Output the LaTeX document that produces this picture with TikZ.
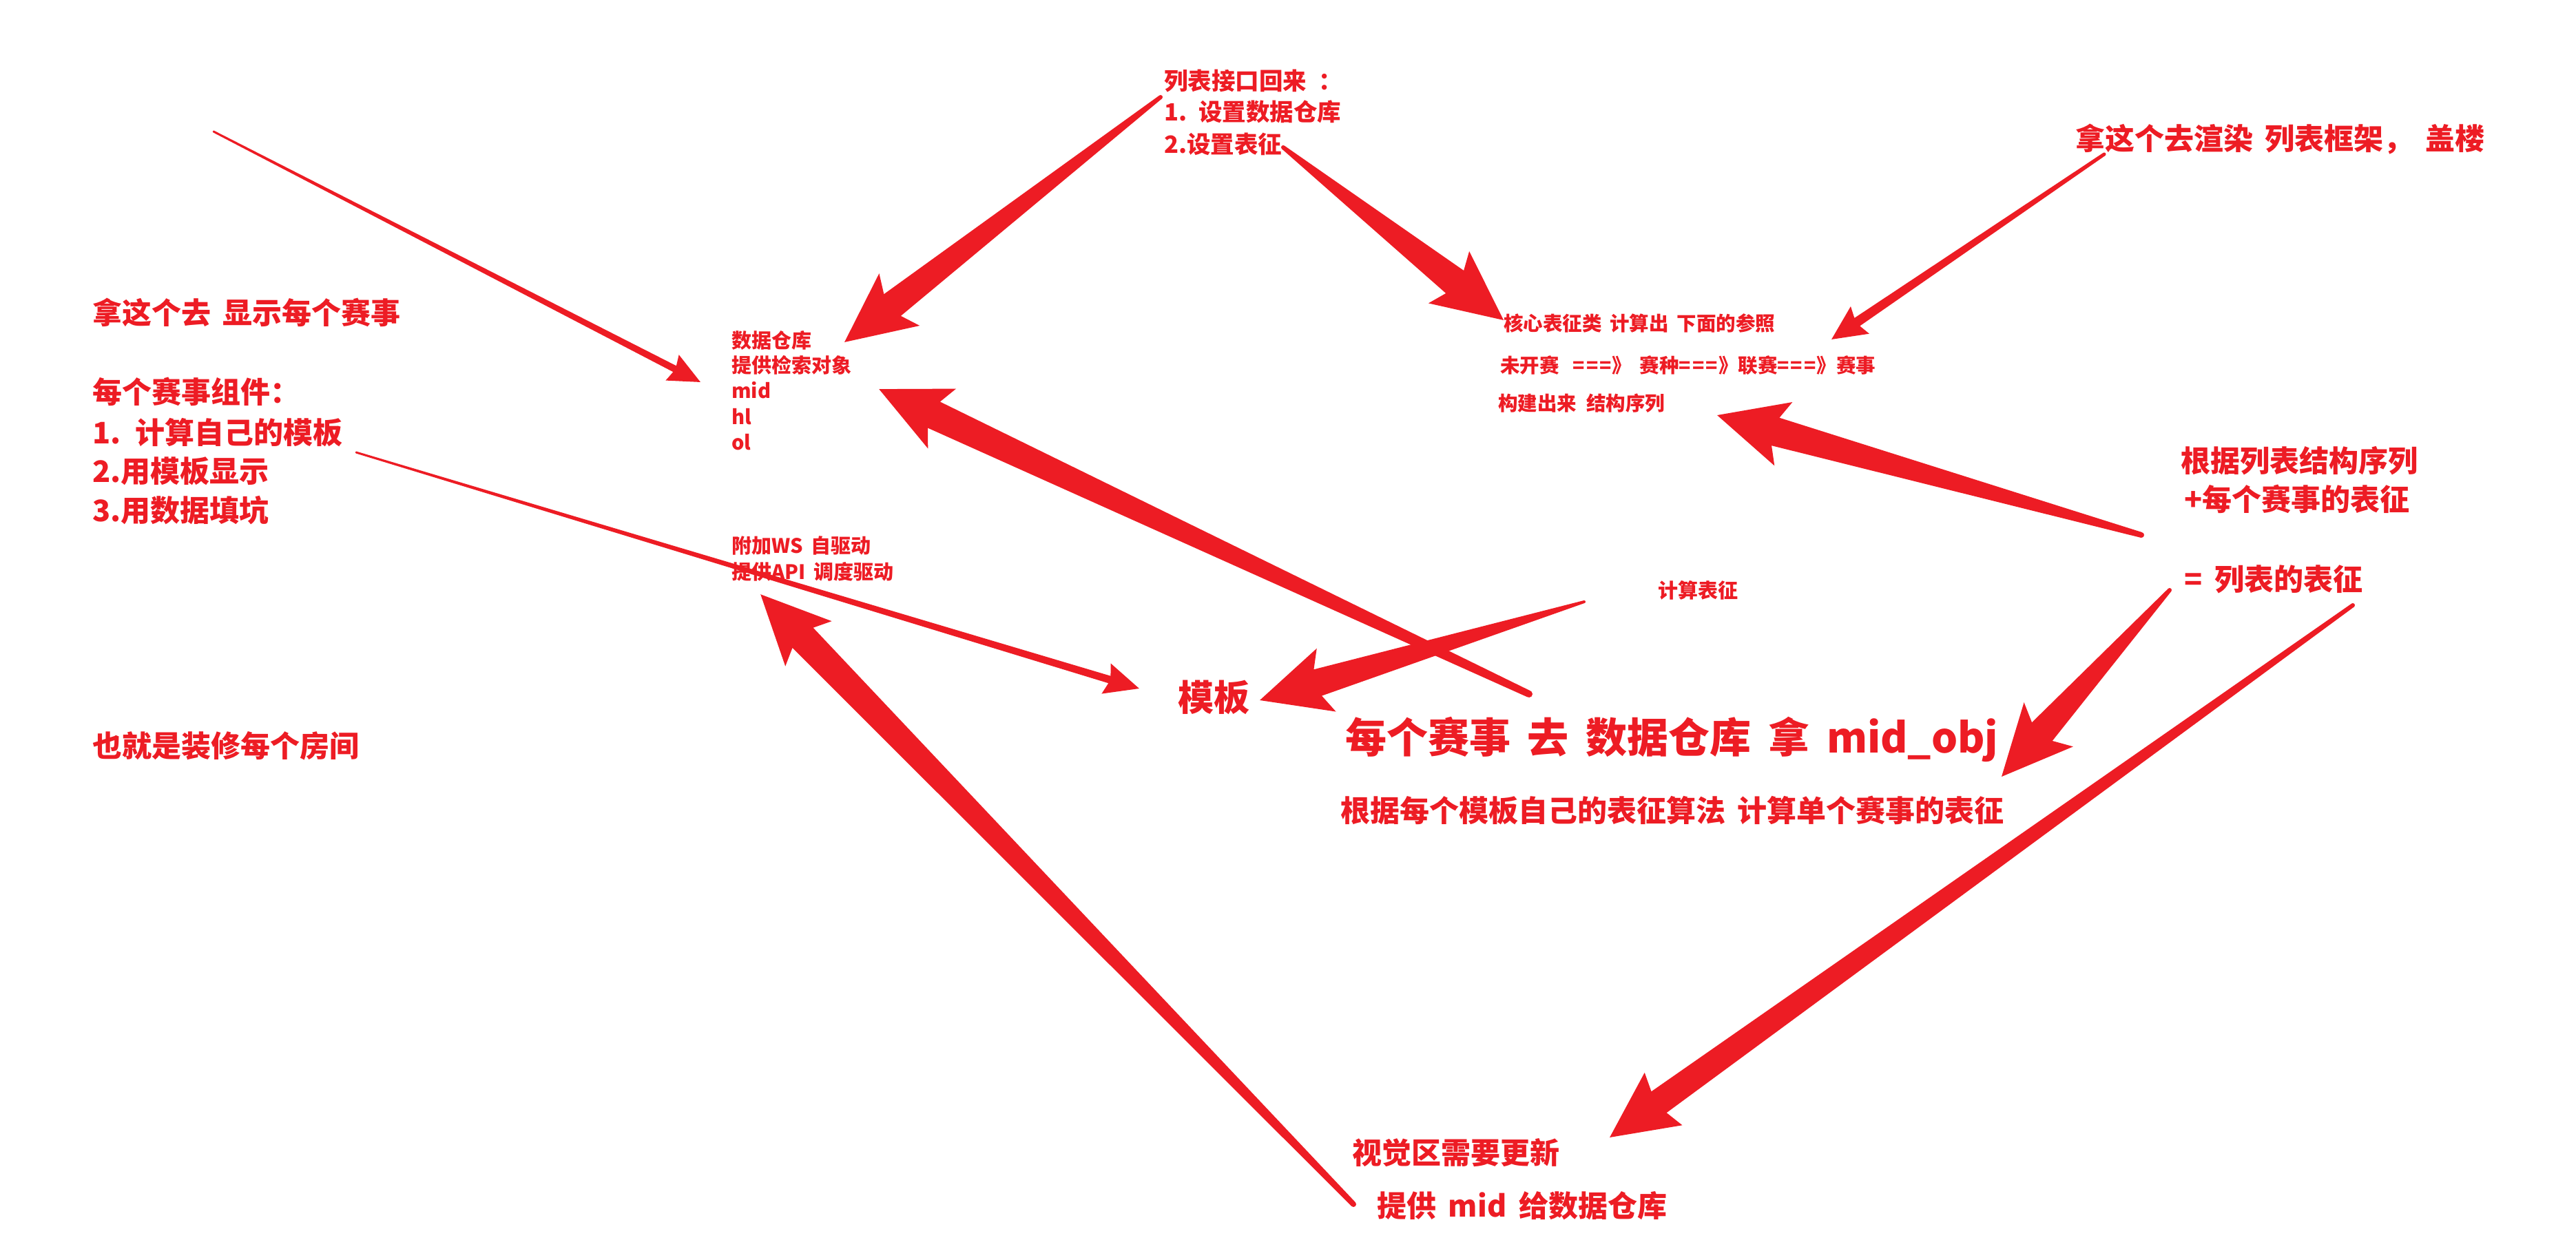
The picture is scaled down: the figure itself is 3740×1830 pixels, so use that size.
\documentclass[tikz,border=0pt]{standalone}
\usepackage{fontspec}
\newfontfamily\cjk[WordSpace=1.8]{Noto Sans CJK SC}
\usetikzlibrary{calc}
\definecolor{arrowred}{RGB}{237,28,36}
% tapered arrow: #1 tail, #2 tip, #3 tail half-width, #4 neck distance from tip,
% #5 neck half-width, #6 head length, #7 head half-width (all in pt)
\newcommand{\fatarrow}[7]{%
  \pgfpointdiff{\pgfpointanchor{#1}{center}}{\pgfpointanchor{#2}{center}}%
  \pgfgetlastxy{\FAdx}{\FAdy}%
  \pgfmathsetmacro\FAang{atan2(\FAdy,\FAdx)}%
  \pgfmathsetmacro\FAlen{veclen(\FAdx,\FAdy)}%
  \pgfmathsetmacro\FAneck{\FAlen-#4}%
  \pgfmathsetmacro\FAhead{\FAlen-#6}%
  \fill[arrowred, shift={(#1)}, rotate=\FAang]
    (0pt,#3pt) -- (\FAneck pt,#5pt) -- (\FAhead pt,#7pt) -- (\FAlen pt,0pt)
    -- (\FAhead pt,-#7pt) -- (\FAneck pt,-#5pt) -- (0pt,-#3pt) -- cycle;
  \fill[arrowred] (#1) circle[radius=#3pt];
}
\newcommand{\eqs}{=\kern2pt=\kern2pt=\kern1pt}
\tikzset{
  lbl/.style={anchor=base west, inner sep=0pt, text=arrowred},
  sxl/.style={lbl, font=\cjk\bfseries\fontsize{43}{50}\selectfont},
  smid/.style={lbl, font=\cjk\bfseries\fontsize{34.5}{40}\selectfont},
  ssm/.style={lbl, font=\cjk\bfseries\fontsize{29}{34}\selectfont},
  skey/.style={lbl, font=\cjk\bfseries\fontsize{28.5}{34}\selectfont},
  stpl/.style={lbl, font=\cjk\bfseries\fontsize{52}{60}\selectfont},
  sbig/.style={lbl, font=\cjk\bfseries\fontsize{60}{70}\selectfont},
  salg/.style={lbl, font=\cjk\bfseries\fontsize{43}{50}\selectfont},
}
\begin{document}
\begin{tikzpicture}[x=1pt,y=-1pt]
\fill[white] (0,0) rectangle (3740,1830);
\useasboundingbox (0,0) rectangle (3740,1830);

% left notes
\node[sxl] (l1) at (134,470) {拿这个去 显示每个赛事};
\node[sxl] (l2) at (134,585) {每个赛事组件：};
\node[sxl] (l3) at (134,644) {1. 计算自己的模板};
\node[sxl] (l4) at (134,700) {2.用模板显示};
\node[sxl] (l5) at (134,757) {3.用数据填坑};
\node[sxl] (l6) at (134,1099) {也就是装修每个房间};

% top centre
\node[smid] (t1) at (1690,131) {列表接口回来\hspace{0.5em}：};
\node[smid] (t2) at (1690,176) {1. 设置数据仓库};
\node[smid] (t3) at (1690,223) {2.设置表征};

% data store
\node[ssm] (d1) at (1062,505) {数据仓库};
\node[ssm] (d2) at (1062,541) {提供检索对象};
\node[ssm] (d3) at (1062,578) {mid};
\node[ssm] (d4) at (1062,616) {hl};
\node[ssm] (d5) at (1062,653) {ol};

\node[ssm] (w1) at (1062,803) {附加WS 自驱动};
\node[ssm] (w2) at (1062,841) {提供API 调度驱动};

% core
\node[skey] (k1) at (2183,480) {核心表征类 计算出 下面的参照};
\node[skey] (k2) at (2178,541) {未开赛\hspace{0.7em}\eqs》 赛种\eqs》联赛\eqs》赛事};
\node[skey] (k3) at (2175,596) {构建出来\hspace{0.5em}结构序列};

\node[ssm] (c1) at (2407,868) {计算表征};

% right notes
\node[sxl] (r1) at (3013,218) {拿这个去渲染 列表框架， 盖楼};
\node[sxl] (r2) at (3166,685) {根据列表结构序列};
\node[sxl] (r3) at (3171,741) {+每个赛事的表征};
\node[sxl] (r4) at (3171,857) {= 列表的表征};

% centre
\node[stpl] (m1) at (1710,1032) {模板};
\node[sbig] (e1) at (1953,1093) {每个赛事 去 数据仓库 拿 mid\_obj};
\node[salg] (f1) at (1946,1193) {根据每个模板自己的表征算法 计算单个赛事的表征};

% bottom
\node[sxl] (v1) at (1963,1690) {视觉区需要更新};
\node[sxl] (v2) at (1999,1767) {提供 mid 给数据仓库};

% arrow end points
\coordinate (a1t) at (310,191);   \coordinate (a1h) at (1017,555);
\coordinate (a2t) at (1685,141);  \coordinate (a2h) at (1226,497);
\coordinate (a3t) at (1863,214);  \coordinate (a3h) at (2183,465);
\coordinate (a4t) at (3055,224);  \coordinate (a4h) at (2659,493);
\coordinate (a5t) at (3109,777);  \coordinate (a5h) at (2493,603);
\coordinate (a6t) at (2220,1008); \coordinate (a6h) at (1276,565);
\coordinate (a7t) at (517,657);   \coordinate (a7h) at (1654,1000);
\coordinate (a8t) at (2300,874);  \coordinate (a8h) at (1829,1017);
\coordinate (a9t) at (3150,857);  \coordinate (a9h) at (2906,1128);
\coordinate (a10t) at (3416,879); \coordinate (a10h) at (2337,1652);
\coordinate (a11t) at (1965,1749);\coordinate (a11h) at (1104,863);

\fatarrow{a1t}{a1h}{1.5}{42}{5}{46}{21}
\fatarrow{a2t}{a2h}{3}{88}{20}{101}{48}
\fatarrow{a3t}{a3h}{3}{90}{21}{101}{48}
\fatarrow{a4t}{a4h}{2.5}{45}{7}{50}{24}
\fatarrow{a5t}{a5h}{4}{88}{21}{100}{48}
\fatarrow{a6t}{a6h}{5}{88}{21}{101}{48}
\fatarrow{a7t}{a7h}{1.5}{45}{5.5}{50}{23}
\fatarrow{a8t}{a8h}{2}{88}{20}{101}{48}
\fatarrow{a9t}{a9h}{3}{88}{20}{102}{48}
\fatarrow{a10t}{a10h}{3}{88}{19}{96}{47}
\fatarrow{a11t}{a11h}{4}{88}{21}{100}{47}
\end{tikzpicture}
\end{document}
